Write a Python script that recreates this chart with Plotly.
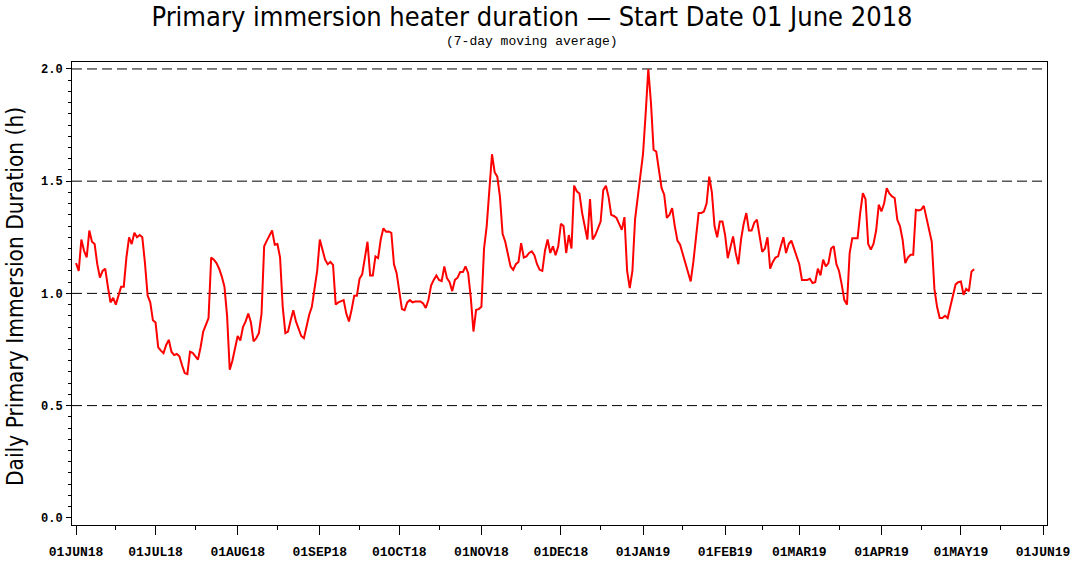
import pandas as pd
import plotly.graph_objects as go

# ---------------- data ----------------
start_date = "2018-06-01"

values = [
    1.135, 1.10, 1.24, 1.19, 1.16, 1.28, 1.23, 1.22, 1.13, 1.07,
    1.10, 1.11, 1.03, 0.96, 0.98, 0.95, 0.99, 1.03, 1.03, 1.16,
    1.25, 1.22, 1.27, 1.25, 1.26, 1.25, 1.135, 0.99, 0.96, 0.88,
    0.87, 0.76, 0.745, 0.734, 0.77, 0.793, 0.74, 0.725, 0.73, 0.72,
    0.68, 0.645, 0.64, 0.74, 0.735, 0.72, 0.705, 0.76, 0.83, 0.86,
    0.89, 1.16, 1.15, 1.135, 1.11, 1.075, 1.03, 0.90, 0.66, 0.70,
    0.76, 0.81, 0.79, 0.85, 0.875, 0.91, 0.87, 0.786, 0.80, 0.823,
    0.91, 1.21, 1.235, 1.26, 1.28, 1.217, 1.22, 1.16, 0.94, 0.823,
    0.83, 0.88, 0.925, 0.875, 0.845, 0.81, 0.80, 0.86, 0.905, 0.94,
    1.03, 1.10, 1.24, 1.20, 1.15, 1.13, 1.14, 1.127, 0.95, 0.96,
    0.965, 0.97, 0.91, 0.875, 0.927, 0.99, 0.99, 1.065, 1.085, 1.15,
    1.23, 1.08, 1.08, 1.165, 1.157, 1.24, 1.29, 1.275, 1.276, 1.27,
    1.13, 1.09, 1.00, 0.93, 0.925, 0.96, 0.97, 0.96, 0.964, 0.964,
    0.964, 0.955, 0.935, 0.97, 1.035, 1.06, 1.08, 1.06, 1.055, 1.12,
    1.068, 1.05, 1.01, 1.06, 1.07, 1.095, 1.095, 1.12, 1.09, 0.98,
    0.83, 0.927, 0.93, 0.94, 1.20, 1.30, 1.45, 1.62, 1.54, 1.52,
    1.43, 1.265, 1.23, 1.18, 1.12, 1.105, 1.13, 1.14, 1.224, 1.16,
    1.165, 1.18, 1.187, 1.17, 1.13, 1.105, 1.10, 1.19, 1.24, 1.18,
    1.21, 1.17, 1.21, 1.31, 1.30, 1.18, 1.26, 1.20, 1.48, 1.455,
    1.445, 1.36, 1.30, 1.24, 1.42, 1.24, 1.26, 1.29, 1.32, 1.46,
    1.48, 1.43, 1.35, 1.345, 1.336, 1.31, 1.283, 1.34, 1.10, 1.024,
    1.10, 1.33, 1.43, 1.53, 1.62, 1.80, 2.00, 1.85, 1.64, 1.632,
    1.55, 1.47, 1.44, 1.336, 1.35, 1.38, 1.30, 1.235, 1.217, 1.175,
    1.14, 1.10, 1.053, 1.14, 1.25, 1.358, 1.358, 1.365, 1.40, 1.52,
    1.45, 1.30, 1.25, 1.32, 1.32, 1.26, 1.157, 1.20, 1.254, 1.18,
    1.13, 1.24, 1.31, 1.358, 1.28, 1.28, 1.315, 1.328, 1.25, 1.185,
    1.20, 1.25, 1.11, 1.14, 1.16, 1.165, 1.21, 1.25, 1.18, 1.22,
    1.235, 1.20, 1.165, 1.13, 1.06, 1.06, 1.06, 1.065, 1.046, 1.05,
    1.11, 1.08, 1.15, 1.12, 1.135, 1.20, 1.21, 1.13, 1.10, 1.04,
    0.97, 0.95, 1.18, 1.246, 1.246, 1.246, 1.36, 1.447, 1.42, 1.22,
    1.195, 1.22, 1.28, 1.395, 1.365, 1.40, 1.469, 1.445, 1.432, 1.425,
    1.328, 1.30, 1.239, 1.135, 1.16, 1.172, 1.172, 1.373, 1.37, 1.373,
    1.39, 1.34, 1.29, 1.23, 1.02, 0.94, 0.89, 0.89, 0.90, 0.89,
    0.94, 0.99, 1.04, 1.05, 1.053, 0.994, 1.02, 1.01, 1.098, 1.108,
]

tick_dates = [
    "2018-06-01", "2018-07-01", "2018-08-01", "2018-09-01", "2018-10-01",
    "2018-11-01", "2018-12-01", "2019-01-01", "2019-02-01", "2019-03-01",
    "2019-04-01", "2019-05-01", "2019-06-01",
]
tick_labels = [
    "01JUN18", "01JUL18", "01AUG18", "01SEP18", "01OCT18", "01NOV18",
    "01DEC18", "01JAN19", "01FEB19", "01MAR19", "01APR19", "01MAY19",
    "01JUN19",
]
minor_tick_dates = [
    "2018-06-16", "2018-07-16", "2018-08-16", "2018-09-16", "2018-10-16",
    "2018-11-16", "2018-12-16", "2019-01-16", "2019-02-15", "2019-03-16",
    "2019-04-16", "2019-05-16",
]
y_tick_values = [0.0, 0.5, 1.0, 1.5, 2.0]
y_tick_labels = ["0.0", "0.5", "1.0", "1.5", "2.0"]
grid_levels = [0.5, 1.0, 1.5, 2.0]

title_text = "Primary immersion heater duration \u2014 Start Date 01 June 2018"
subtitle_text = "(7-day moving average)"
ytitle_text = "Daily Primary Immersion Duration (h)"

# ---------------- figure ----------------
dates = pd.date_range(start_date, periods=len(values), freq="D")

W, H = 1077, 570
ML, MR, MT, MB = 72, 30, 62, 45

TITLE_FONT = "DejaVu Sans Condensed, Liberation Sans Narrow, DejaVu Sans, sans-serif"
TICK_FONT = "Liberation Mono, DejaVu Sans Mono, monospace"

fig = go.Figure(
    go.Scatter(
        x=dates, y=values, mode="lines",
        line=dict(color="#ff0000", width=2),
        hoverinfo="skip",
    )
)

shapes = [
    dict(type="line", xref="paper", x0=0, x1=1, yref="y", y0=lv, y1=lv,
         line=dict(color="black", width=1, dash="10px,5px"), layer="below")
    for lv in grid_levels
]

pw = W - ML - MR
ph = H - MT - MB
plot_bottom = H - MB

fig.update_layout(
    width=W, height=H,
    margin=dict(l=ML, r=MR, t=MT, b=MB, autoexpand=False),
    paper_bgcolor="white", plot_bgcolor="white",
    showlegend=False,
    hovermode=False,
    title=dict(
        text=title_text, xref="container", x=532 / W, xanchor="center",
        yref="container", y=1 - 17 / H, yanchor="middle",
        font=dict(family=TITLE_FONT, size=27, color="black"),
    ),
    shapes=shapes,
    annotations=[
        dict(text=subtitle_text, xref="paper", yref="paper",
             x=(532 - ML) / pw, y=(plot_bottom - 42) / ph,
             xanchor="center", yanchor="middle", showarrow=False,
             font=dict(family=TICK_FONT, size=13, color="black")),
        dict(text=ytitle_text, xref="paper", yref="paper",
             x=(15 - ML) / pw, y=(plot_bottom - 297) / ph, textangle=-90,
             xanchor="center", yanchor="middle", showarrow=False,
             font=dict(family=TITLE_FONT, size=22.5, color="black")),
    ],
    xaxis=dict(
        type="date", automargin=False,
        range=["2018-05-30 11:00", "2019-06-02 12:00"],
        showline=True, linecolor="black", linewidth=1, mirror=True,
        showgrid=False, zeroline=False,
        ticks="outside", ticklen=9, tickwidth=1, tickcolor="black",
        tickmode="array", tickvals=tick_dates, ticktext=tick_labels,
        tickfont=dict(family=TICK_FONT, size=13, color="black", weight="bold"),
        ticklabelstandoff=5,
        minor=dict(tickmode="array", tickvals=minor_tick_dates, ticks="outside",
                   ticklen=4, tickwidth=1, tickcolor="black", showgrid=False),
    ),
    yaxis=dict(
        automargin=False,
        range=[-0.032, 2.031],
        showline=True, linecolor="black", linewidth=1, mirror=True,
        showgrid=False, zeroline=False,
        ticks="outside", ticklen=5, tickwidth=1, tickcolor="black",
        tickmode="array", tickvals=y_tick_values, ticktext=y_tick_labels,
        tickfont=dict(family=TICK_FONT, size=12, color="black", weight="bold"),
        ticklabelstandoff=1,
        minor=dict(dtick=0.05, tick0=0, ticks="outside", ticklen=3,
                   tickwidth=1, tickcolor="black", showgrid=False),
    ),
)

# place the figure at the window's top-left corner (no default body margin)
fig.write_html(
    "out.html",
    config=dict(displayModeBar=False, staticPlot=True),
    post_script="document.body.style.margin='0';",
)
